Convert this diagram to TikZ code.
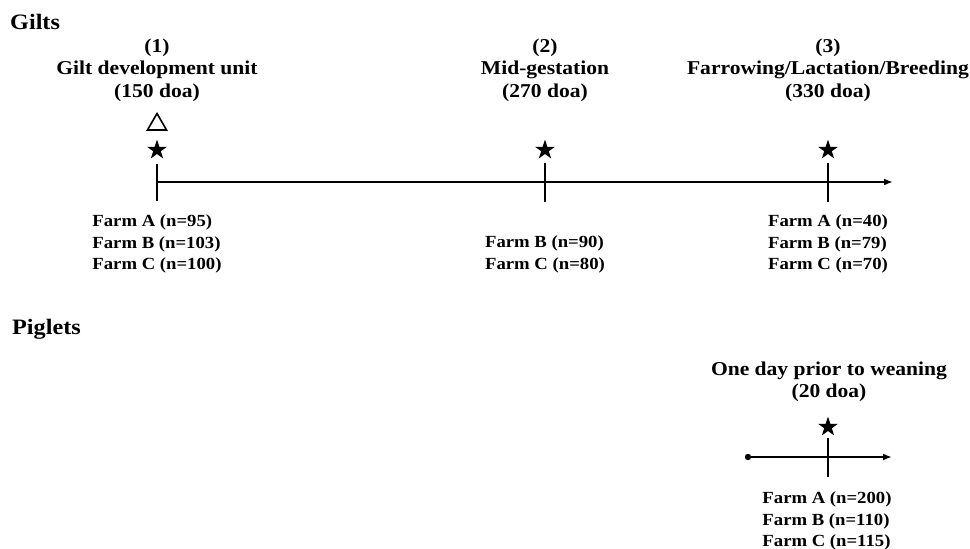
\documentclass[tikz,border=0pt]{standalone}
\usepackage{fontspec}
\setmainfont{Liberation Serif}[FakeStretch=1.1]
\usetikzlibrary{shapes.geometric,arrows.meta}
\begin{document}
\begin{tikzpicture}[x=1pt,y=-1pt,
  title/.style={anchor=base west,inner sep=0,font=\fontsize{22}{26}\selectfont\bfseries},
  head/.style={align=center,inner sep=0,font=\fontsize{19.6}{22.5}\selectfont\bfseries},
  farm/.style={align=left,inner sep=0,font=\fontsize{17}{21.5}\selectfont\bfseries},
  starmark/.style={star,star points=5,star point ratio=2.618,fill=black,inner sep=0,minimum size=21pt},
  trimark/.style={regular polygon,regular polygon sides=3,draw=black,line width=1.6pt,inner sep=0,minimum size=22pt},
  axis/.style={line width=2.2pt,-{Latex[length=9pt,width=7pt]}},
  tick/.style={line width=2.2pt}
]
\useasboundingbox (0,0) rectangle (970,549);
% Titles
\node[title] (gilts) at (10,29) {Gilts};
\node[title] (piglets) at (12,334) {Piglets};
% Gilts headings
\node[head] (h1) at (157,70) {(1)\\Gilt development unit\\(150 doa)};
\node[head] (h2) at (545,70) {(2)\\Mid-gestation\\(270 doa)};
\node[head] (h3) at (828,70) {(3)\\Farrowing/Lactation/Breeding\\(330 doa)};
% marks
\node[trimark] (tri1) at (157,124.5) {};
\node[starmark] (s1) at (157,150) {};
\node[starmark] (s2) at (545,150) {};
\node[starmark] (s3) at (828,150) {};
% timeline
\coordinate (a0) at (157,182);
\coordinate (a1) at (893,182);
\draw[axis] (a0) -- (a1);
\coordinate (t1a) at (157,164); \coordinate (t1b) at (157,201);
\coordinate (t2a) at (545,163); \coordinate (t2b) at (545,202);
\coordinate (t3a) at (828,163); \coordinate (t3b) at (828,202);
\draw[tick] (t1a) -- (t1b);
\draw[tick] (t2a) -- (t2b);
\draw[tick] (t3a) -- (t3b);
% farm labels
\node[farm] (f1) at (157,244) {Farm A (n=95)\\Farm B (n=103)\\Farm C (n=100)};
\node[farm] (f2) at (545,254.5) {Farm B (n=90)\\Farm C (n=80)};
\node[farm] (f3) at (828,244) {Farm A (n=40)\\Farm B (n=79)\\Farm C (n=70)};
% Piglets
\node[head] (h4) at (829,382) {One day prior to weaning\\(20 doa)};
\node[starmark] (s4) at (828,427) {};
\coordinate (b0) at (748,457);
\coordinate (b1) at (892,457);
\fill (b0) circle (3.2pt);
\draw[axis] (b0) -- (b1);
\coordinate (t4a) at (828,438); \coordinate (t4b) at (828,477);
\draw[tick] (t4a) -- (t4b);
\node[farm] (f4) at (827,521) {Farm A (n=200)\\Farm B (n=110)\\Farm C (n=115)};
\end{tikzpicture}
\end{document}
